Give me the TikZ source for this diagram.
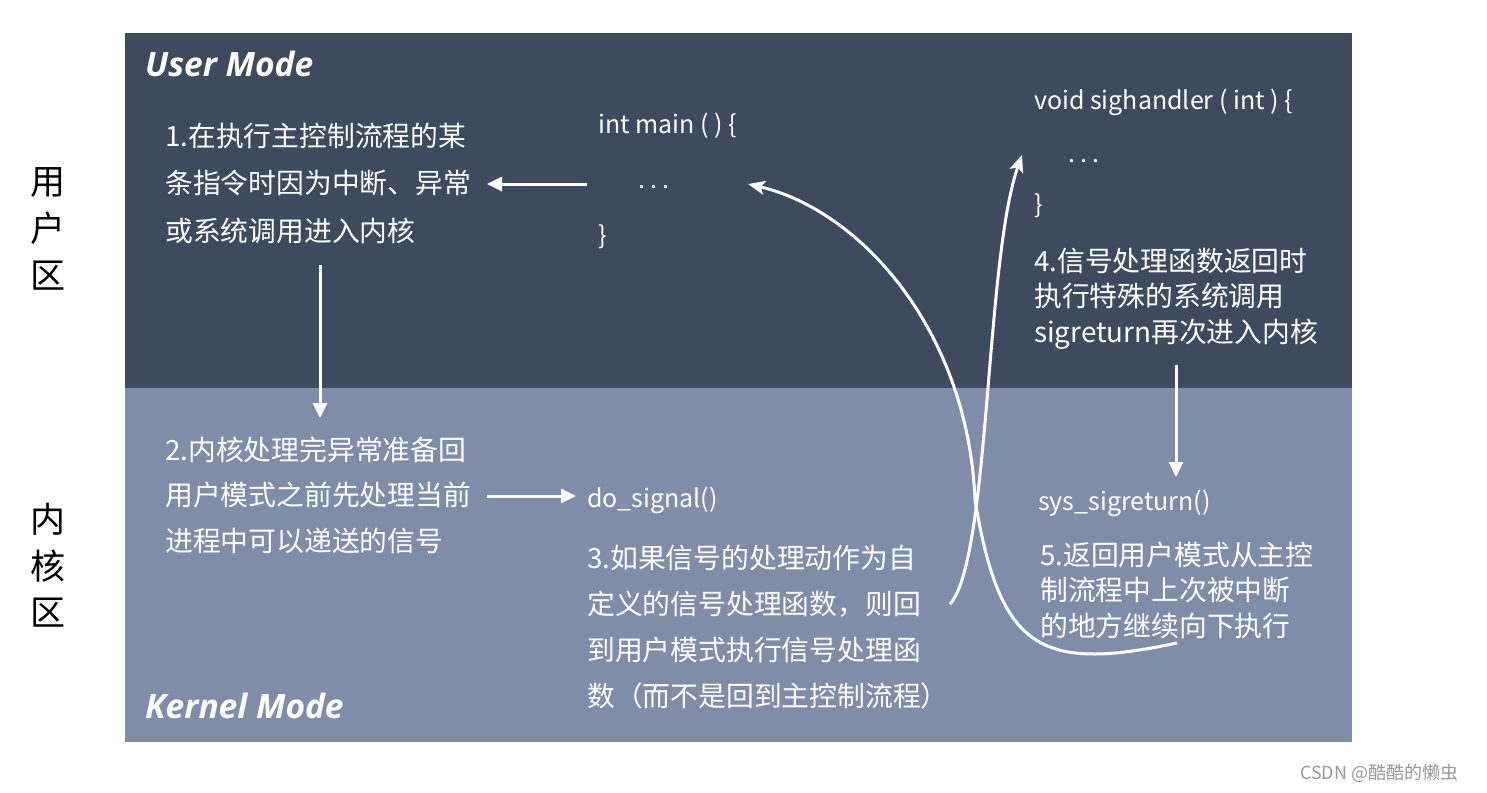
\documentclass[tikz,border=0pt]{standalone}
\usepackage{fontspec}
\setmainfont{Noto Sans CJK SC}
\newfontfamily\modefont{Open Sans}
\usetikzlibrary{arrows.meta}
\definecolor{userbg}{HTML}{3E4A5E}
\definecolor{kernbg}{HTML}{7F8DA8}
\definecolor{wm}{HTML}{9A9A9A}
\tikzset{
  txt/.style={inner sep=0pt, anchor=base west, text=white, align=left},
  cjk/.style={txt, font=\fontsize{27.8}{#1}\selectfont},
  code/.style={txt, font=\fontsize{25}{30}\selectfont},
  modelabel/.style={inner sep=0pt, anchor=base west, text=white, font=\modefont\bfseries\itshape\fontsize{33.5}{38}\selectfont},
  side/.style={inner sep=0pt, anchor=base, text=black, font=\fontsize{35}{40}\selectfont},
  arr/.style={draw=white, line width=3pt, -{Triangle[length=15pt,width=14pt]}},
  carr/.style={draw=white, line width=3pt, -{Stealth[length=17pt,width=14pt,inset=4pt]}}
}
\begin{document}
\begin{tikzpicture}[x=1pt,y=-1pt]
\useasboundingbox (0,0) rectangle (1487,792);
\fill[white] (0,0) rectangle (1487,792);
\fill[userbg] (125,33) rectangle (1352,388);
\fill[kernbg] (125,388) rectangle (1352,742);

\node[side] (u1) at (48,194) {用};
\node[side] (u2) at (48,241) {户};
\node[side] (u3) at (48,288) {区};
\node[side] (k1) at (48,532) {内};
\node[side] (k2) at (48,579) {核};
\node[side] (k3) at (48,625) {区};

\node[modelabel] (um) at (145,77) {User Mode};
\node[modelabel] (km) at (145,718) {Kernel Mode};

% multi-line nodes: base anchor = baseline of last line
\node[cjk=47.5] (t1) at (165,241) {1.在执行主控制流程的某\\条指令时因为中断、异常\\或系统调用进入内核};
\node[code] (m1) at (598,133) {int main ( ) \{};
\node[code] (m2) at (638,188) {.\hspace{5pt}.\hspace{5pt}.};
\node[code] (m3) at (598,244) {\}};

\node[code] (s1) at (1034,109) {void sighandler ( int ) \{};
\node[code] (s2) at (1068,162) {.\hspace{5pt}.\hspace{5pt}.};
\node[code] (s3) at (1034,213) {\}};
\node[cjk=35.5] (t4) at (1034,342) {4.信号处理函数返回时\\执行特殊的系统调用\\sigreturn再次进入内核};

\node[cjk=45.5] (t2) at (165,551) {2.内核处理完异常准备回\\用户模式之前先处理当前\\进程中可以递送的信号};
\node[code] (ds) at (587,507) {do\_signal()};
\node[cjk=46] (t3) at (587,706) {3.如果信号的处理动作为自\\定义的信号处理函数，则回\\到用户模式执行信号处理函\\数（而不是回到主控制流程）};

\node[code] (sr) at (1038,510) {sys\_sigreturn()};
\node[cjk=35.5] (t5) at (1040,636) {5.返回用户模式从主控\\制流程中上次被中断\\的地方继续向下执行};

\node[inner sep=0pt, anchor=base west, text=wm, font=\fontsize{18}{20}\selectfont] (wmk) at (1300,779) {CSDN @酷酷的懒虫};

% connector anchors
\coordinate (a1s) at (587,184);
\coordinate (a1e) at (487,184);
\coordinate (a2s) at (320,265);
\coordinate (a2e) at (320,418);
\coordinate (a3s) at (487,496);
\coordinate (a3e) at (576,496);
\coordinate (a4s) at (1176,365);
\coordinate (a4e) at (1176,477);
\coordinate (cAs) at (950,604);
\coordinate (cAe) at (1022,155);
\coordinate (cBs) at (1177,643);
\coordinate (cBm) at (975,500);
\coordinate (cBe) at (748,184);

\draw[arr] (a1s) -- (a1e);
\draw[arr] (a2s) -- (a2e);
\draw[arr] (a3s) -- (a3e);
\draw[arr] (a4s) -- (a4e);
\draw[carr] (cAs) .. controls (990,560) and (985,260) .. (cAe);
\draw[carr] (cBs) .. controls (1040,672) and (1000,650) .. (cBm)
  .. controls (968,330) and (860,210) .. (cBe);
\end{tikzpicture}
\end{document}
